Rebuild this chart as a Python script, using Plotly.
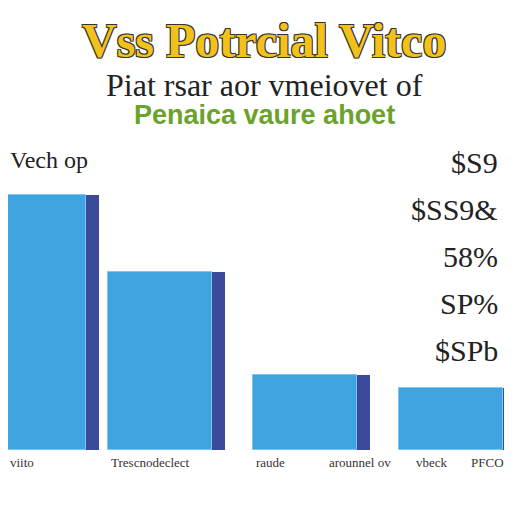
import plotly.graph_objects as go

categories = [34, 160, 305, 451]
values = [255, 178, 75, 62]
right_labels = ["$S9", "$SS9&", "58%", "SP%", "$SPb"]
x_labels = ["viito", "Trescnodeclect", "raude", "arounnel ov", "vbeck", "PFCO"]

fig = go.Figure()
fig.add_trace(go.Bar(x=[c + 13 for c in categories], y=values, width=104,
                     marker=dict(color="#3B4A9A", line=dict(width=0)), hoverinfo="skip"))
fig.add_trace(go.Bar(x=categories, y=values, width=104,
                     marker=dict(color="#3FA3E0", line=dict(color="#7CC8F2", width=1)), hoverinfo="skip"))

S = 504
def py(px):
    return 1 - (px - 8) / S
def pxx(px):
    return max(0, (px - 8) / S)

ann = []
outline = "1px 1px 0 #333, -1px -1px 0 #333, 1px -1px 0 #333, -1px 1px 0 #333"
def add(xpx, ypx, text, size, color, family, xanchor="center", **kw):
    ann.append(dict(x=pxx(xpx), y=py(ypx), text=text, showarrow=False, xref="paper", yref="paper",
                    xanchor=xanchor, yanchor="middle", font=dict(size=size, color=color, family=family, **kw)))

add(264, 40, "<b>Vss Potrcial Vitco</b>", 48, "#F2C21B", "Liberation Serif", shadow=outline)
add(264, 85, "Piat rsar aor vmeiovet of", 32, "#222", "Liberation Serif")
add(264, 115, "<b>Penaica vaure ahoet</b>", 27, "#6AA32A", "Liberation Sans")
add(0, 160, "Vech op", 24, "#222", "Liberation Serif", xanchor="left")
for i, t in enumerate(right_labels):
    add(500, 162 + i * 47, t, 30, "#222", "Liberation Serif", xanchor="right")
lx = [22, 150, 270, 360, 432, 506]
for i, (x, t) in enumerate(zip(lx, x_labels)):
    add(x, 462, t, 13, "#333", "Liberation Serif", xanchor="right" if i == len(lx) - 1 else "center")

fig.update_layout(
    width=S, height=S, margin=dict(l=0, r=0, t=0, b=0),
    paper_bgcolor="white", plot_bgcolor="white", showlegend=False,
    barmode="overlay", bargap=0,
    xaxis=dict(range=[8, 512], visible=False, fixedrange=True),
    yaxis=dict(range=[-62, 442], visible=False, fixedrange=True),
    annotations=ann,
)
fig.write_html("out.html")
